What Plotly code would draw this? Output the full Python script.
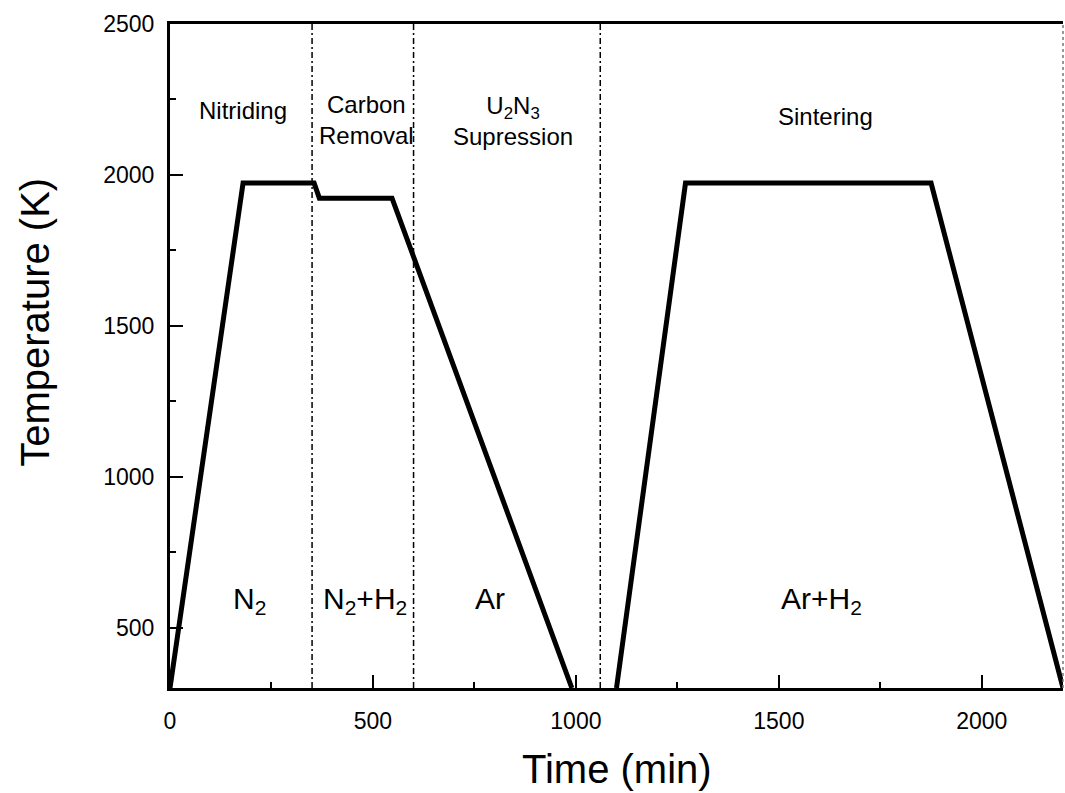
import plotly.graph_objects as go

# Temperature profile (time in min, temperature in K)
stage1_time = [0, 180, 355, 368, 547, 990]
stage1_temp = [300, 1973, 1973, 1923, 1923, 300]
stage2_time = [1100, 1270, 1875, 2200]
stage2_temp = [300, 1973, 1973, 300]

# Phase boundaries (min)
boundaries = [350, 600, 1060]

# Top labels
top_labels = ["Nitriding", "Carbon<br>Removal", "U<sub>2</sub>N<sub>3</sub><br>Supression", "Sintering"]
top_x = [180, 485, 845, 1615]
top_y = [2215, 2182, 2178, 2192]

# Atmosphere labels
gas_labels = ["N<sub>2</sub>", "N<sub>2</sub>+H<sub>2</sub>", "Ar", "Ar+H<sub>2</sub>"]
gas_x = [197, 480, 789, 1605]
gas_y = [590, 590, 595, 590]

FONT = "Arial, Liberation Sans, sans-serif"

fig = go.Figure()
fig.add_trace(go.Scatter(x=stage1_time, y=stage1_temp, mode="lines",
                         line=dict(color="black", width=5), showlegend=False))
fig.add_trace(go.Scatter(x=stage2_time, y=stage2_temp, mode="lines",
                         line=dict(color="black", width=5), showlegend=False))

for b in boundaries:
    fig.add_shape(type="line", x0=b, x1=b, y0=300, y1=2500, xref="x", yref="y",
                  line=dict(color="black", width=1.5, dash="6px,3px,2px,3px"))

# dotted right border
fig.add_shape(type="line", x0=1, x1=1, y0=0, y1=1, xref="paper", yref="paper",
              line=dict(color="#777777", width=1.5, dash="dot"))

for t, x, y in zip(top_labels, top_x, top_y):
    fig.add_annotation(x=x, y=y, text=t, showarrow=False, xref="x", yref="y",
                       font=dict(family=FONT, size=24, color="black"))
for t, x, y in zip(gas_labels, gas_x, gas_y):
    fig.add_annotation(x=x, y=y, text=t, showarrow=False, xref="x", yref="y",
                       font=dict(family=FONT, size=30, color="black"))

# axis titles
fig.add_annotation(x=0, y=0.55, xref="paper", yref="paper", text="Temperature (K)",
                   textangle=-90, showarrow=False, xanchor="center", yanchor="middle",
                   xshift=-135, font=dict(family=FONT, size=40, color="black"))
fig.add_annotation(x=0.501, y=0, xref="paper", yref="paper", text="Time (min)",
                   showarrow=False, xanchor="center", yanchor="middle",
                   yshift=-81, font=dict(family=FONT, size=40, color="black"))

fig.update_layout(
    width=1065, height=793,
    margin=dict(l=170, r=2, t=24, b=105),
    paper_bgcolor="white", plot_bgcolor="white",
    font=dict(family=FONT, color="black"),
    xaxis=dict(range=[0, 2200], tickmode="linear", tick0=0, dtick=500,
               ticks="inside", ticklen=13, tickwidth=2, tickcolor="black",
               minor=dict(ticks="inside", ticklen=6, tickwidth=2, dtick=250, tickcolor="black"),
               showline=True, linewidth=3, linecolor="black", mirror=True,
               showgrid=False, zeroline=False, ticklabelstandoff=10,
               tickfont=dict(family=FONT, size=23, color="black")),
    yaxis=dict(range=[300, 2500], tickmode="linear", tick0=0, dtick=500,
               ticks="inside", ticklen=13, tickwidth=2, tickcolor="black",
               minor=dict(ticks="inside", ticklen=6, tickwidth=2, dtick=250, tickcolor="black"),
               showline=True, linewidth=3, linecolor="black", mirror=False,
               showgrid=False, zeroline=False, ticklabelstandoff=8,
               tickfont=dict(family=FONT, size=23, color="black")),
)

fig.write_html("out.html")
